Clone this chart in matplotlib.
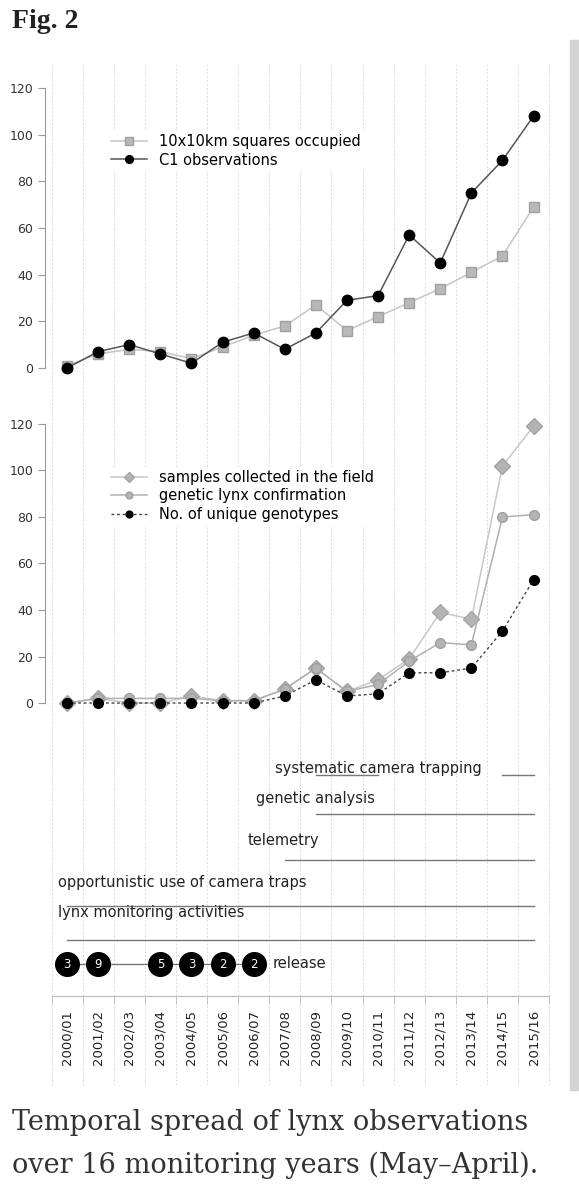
import matplotlib
matplotlib.use("Agg")
import matplotlib.pyplot as plt
from matplotlib.patches import Rectangle

years = ["2000/01","2001/02","2002/03","2003/04","2004/05","2005/06","2006/07","2007/08",
         "2008/09","2009/10","2010/11","2011/12","2012/13","2013/14","2014/15","2015/16"]
squares = [1,6,8,7,4,9,14,18,27,16,22,28,34,41,48,69]
c1_obs = [0,7,10,6,2,11,15,8,15,29,31,57,45,75,89,108]
samples = [0,2,0,0,3,1,1,6,15,5,10,19,39,36,102,119]
genetic = [0,2,2,2,2,1,1,6,15,5,8,18,26,25,80,81]
genotypes = [0,0,0,0,0,0,0,3,10,3,4,13,13,15,31,53]
activities = ["systematic camera trapping","genetic analysis","telemetry",
              "opportunistic use of camera traps","lynx monitoring activities"]
act_spans = [[(8,10),(14,15)],[(8,15)],[(7,15)],[(0,15)],[(0,15)]]
release_idx = [0,1,3,4,5,6]
release_n = [3,9,5,3,2,2]

W, H = 579, 1200
fig = plt.figure(figsize=(W/100, H/100), dpi=100)
fig.patch.set_facecolor("white")

def ax_px(x0, y0, x1, y1):
    return fig.add_axes([x0/W, 1-y1/H, (x1-x0)/W, (y1-y0)/H])

XL = (-0.71, 15.56)
fig.patches.append(Rectangle((570/W, 1-1090/H), 9/W, 1050/H, transform=fig.transFigure,
                             color="#d4d4d4", zorder=0))

g = ax_px(45, 62, 551, 1085)
g.set_xlim(XL); g.set_ylim(0, 1); g.axis("off")
for i in range(17):
    g.axvline(i-0.5, color="#d8d8d8", lw=0.7, ls=(0, (2, 2)))

tick_col = "#333333"
def style(ax, ylim):
    ax.set_xlim(XL); ax.set_ylim(ylim)
    ax.patch.set_alpha(0)
    for s in ["top","right","bottom"]:
        ax.spines[s].set_visible(False)
    ax.spines["left"].set_bounds(0, 120)
    ax.spines["left"].set_color("#999999")
    ax.set_yticks(range(0, 121, 20))
    ax.tick_params(axis="y", labelsize=9, colors="#999999", labelcolor=tick_col, length=5)
    ax.set_xticks([])

x = list(range(16))
a1 = ax_px(45, 60, 551, 395)
style(a1, (-11.6, 132))
a1.plot(x, squares, color="#c4c4c4", lw=1.1, marker="s", ms=7, mfc="#b8b8b8", mec="#a0a0a0",
        label="10x10km squares occupied")
a1.plot(x, c1_obs, color="#555555", lw=1.1, marker="o", ms=7.5, mfc="black", mec="black",
        label="C1 observations")
a1.legend(loc="upper left", bbox_to_anchor=(0.11, 0.81), fontsize=10.5, frameon=True,
          edgecolor="white", framealpha=1, handlelength=2.5, markerscale=0.75,
          borderpad=0.2, labelspacing=0.25)

a2 = ax_px(45, 400, 551, 730)
style(a2, (-11.6, 130.3))
a2.plot(x, samples, color="#c8c8c8", lw=1.1, marker="D", ms=8, mfc="#b4b4b4", mec="#a4a4a4",
        label="samples collected in the field")
a2.plot(x, genetic, color="#b0b0b0", lw=1.1, marker="o", ms=7, mfc="#b4b4b4", mec="#a0a0a0",
        label="genetic lynx confirmation")
a2.plot(x, genotypes, color="#444444", lw=1.0, ls=(0, (2, 2)), marker="o", ms=7,
        mfc="black", mec="black", label="No. of unique genotypes")
a2.legend(loc="upper left", bbox_to_anchor=(0.11, 0.82), fontsize=10.5, frameon=True,
          edgecolor="white", framealpha=1, handlelength=2.5, markerscale=0.7,
          borderpad=0.2, labelspacing=0.25)

a3 = ax_px(45, 740, 551, 1000)
a3.set_xlim(XL); a3.set_ylim(1000, 740); a3.patch.set_alpha(0)
for s in ["top","right","left"]:
    a3.spines[s].set_visible(False)
a3.spines["bottom"].set_bounds(-0.5, 15.5)
a3.spines["bottom"].set_color("#bbbbbb")
a3.spines["bottom"].set_position(("data", 996))
a3.set_yticks([])
a3.set_xticks(x)
a3.set_xticklabels(years, rotation=90, fontsize=9.5, color="#222222")
a3.set_xticks([i-0.5 for i in range(17)], minor=True)
a3.tick_params(axis="x", which="major", length=0, pad=10)
a3.tick_params(axis="x", which="minor", length=6, color="#bbbbbb", direction="out")

line_y = [775, 814, 860, 906, 940]
lab_y = [768, 799, 841, 882, 913]
lab_x = [6.7, 6.07, 5.8, -0.3, -0.3]
for name, spans, ly, ty, tx in zip(activities, act_spans, line_y, lab_y, lab_x):
    for s0, s1 in spans:
        a3.plot([s0, s1], [ly, ly], color="#777777", lw=1.0)
    a3.text(tx, ty, name, fontsize=10.5, color="#222222", va="center", ha="left")

ry = 964
a3.plot([release_idx[0], release_idx[-1]], [ry, ry], color="#777777", lw=1.0, zorder=1)
a3.scatter(release_idx, [ry]*len(release_idx), s=290, color="black", zorder=2)
for xi, n in zip(release_idx, release_n):
    a3.text(xi, ry, str(n), color="white", fontsize=8.5, ha="center", va="center", zorder=3)
a3.text(6.6, ry, "release", fontsize=10.5, color="#222222", va="center", ha="left")

fig.text(12/W, 1-22/H, "Fig. 2", family="Liberation Serif", fontweight="bold",
         fontsize=20, va="center", ha="left", color="#222222")
fig.text(12/W, 1-1123/H, "Temporal spread of lynx observations", family="DejaVu Serif",
         fontsize=19.5, va="center", ha="left", color="#333333")
fig.text(12/W, 1-1165/H, "over 16 monitoring years (May\u2013April).", family="DejaVu Serif",
         fontsize=19.5, va="center", ha="left", color="#333333")

fig.savefig("out.png", dpi=100)
